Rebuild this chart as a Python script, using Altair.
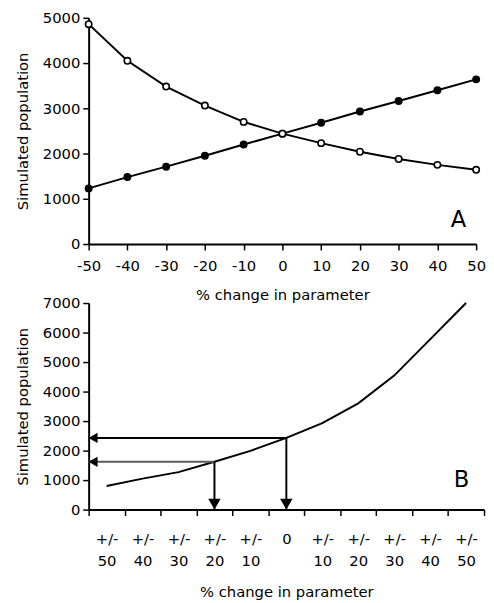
import altair as alt
import pandas as pd

# ---------------- data ----------------
pct_change = [-50, -40, -30, -20, -10, 0, 10, 20, 30, 40, 50]
pop_increasing = [1230, 1480, 1710, 1950, 2200, 2440, 2680, 2930, 3160, 3400, 3640]
pop_decreasing = [4860, 4050, 3480, 3060, 2700, 2440, 2230, 2040, 1880, 1750, 1640]
a_y_ticks = [0, 1000, 2000, 3000, 4000, 5000]

b_keys = [-50, -40, -30, -20, -10, 0, 10, 20, 30, 40, 50]
b_tick_labels = ["+/-|50", "+/-|40", "+/-|30", "+/-|20", "+/-|10", "0",
                 "+/-|10", "+/-|20", "+/-|30", "+/-|40", "+/-|50"]
b_pop = [800, 1050, 1270, 1620, 1990, 2430, 2930, 3600, 4540, 5770, 7000]
b_y_ticks = [0, 1000, 2000, 3000, 4000, 5000, 6000, 7000]

arrow_keys = [0, -20]
arrow_pop = [2430, 1620]
arrow_colors = ["black", "#5a5a5a"]

FONT = "DejaVu Sans"
PLAIN = "'' + datum.value"

# ---------------- panel A ----------------
dfA = pd.DataFrame({
    "pct": pct_change * 2,
    "pop": pop_increasing + pop_decreasing,
    "series": ["inc"] * len(pct_change) + ["dec"] * len(pct_change),
})

axisAx = alt.Axis(values=pct_change, title="% change in parameter", labelExpr=PLAIN,
                  labelOverlap=False, labelFlush=False, labelPadding=9, titlePadding=14)
axisAy = alt.Axis(values=a_y_ticks, title="Simulated population", labelExpr=PLAIN,
                  labelOverlap=False, labelFlush=False, labelPadding=3, titlePadding=12)
xA = alt.X("pct:Q", scale=alt.Scale(domain=[-50, 50], nice=False), axis=axisAx)
yA = alt.Y("pop:Q", scale=alt.Scale(domain=[0, 5000], nice=False), axis=axisAy)

A_H = 230

lineA = alt.Chart(dfA).mark_line(color="black", strokeWidth=2).encode(
    x=xA, y=yA, detail="series:N")
ptsA = alt.Chart(dfA).mark_circle(size=42, stroke="black", strokeWidth=1.6, opacity=1).encode(
    x=xA, y=yA,
    fill=alt.Fill("series:N", scale=alt.Scale(domain=["inc", "dec"], range=["black", "white"]),
                  legend=None))
letterA = alt.Chart(pd.DataFrame({"t": ["A"]})).mark_text(
    font=FONT, fontSize=23, color="black", align="center", baseline="middle").encode(
    text="t:N", x=alt.value(376), y=alt.value(A_H - 24))

chartA = alt.layer(lineA, ptsA, letterA).properties(width=394, height=A_H)

# ---------------- panel B ----------------
dfB = pd.DataFrame({"key": b_keys, "pop": b_pop})

chain = " : ".join(f"datum.value == {k} ? '{lab}'" for k, lab in zip(b_keys, b_tick_labels)) + " : ''"
label_expr = f"split({chain}, '|')"

xB_scale = alt.Scale(type="band", domain=b_keys, paddingInner=0, paddingOuter=0)
yB_scale = alt.Scale(domain=[0, 7000], nice=False)
axisBx = alt.Axis(labelExpr=label_expr, labelAngle=0, tickBand="extent",
                  labelBaseline="top", labelLineHeight=23, labelPadding=16,
                  labelOverlap=False, titlePadding=16, title="% change in parameter")
axisBy = alt.Axis(values=b_y_ticks, title="Simulated population", labelExpr=PLAIN,
                  labelOverlap=False, labelFlush=False, labelPadding=3, titlePadding=12)
xB = alt.X("key:O", scale=xB_scale, bandPosition=0.5, axis=axisBx)
yB = alt.Y("pop:Q", scale=yB_scale, axis=axisBy)
yB_zero = alt.YDatum(0, type="quantitative", scale=yB_scale, axis=axisBy)

lineB = alt.Chart(dfB).mark_line(color="black", strokeWidth=2).encode(x=xB, y=yB)

arrow_layers = []
for k, p, col in zip(arrow_keys, arrow_pop, arrow_colors):
    d = pd.DataFrame({"key": [k], "pop": [p]})
    arrow_layers.append(alt.Chart(d).mark_rule(strokeWidth=2, color=col).encode(
        x=xB, x2=alt.value(0), y=yB))
    arrow_layers.append(alt.Chart(d).mark_point(
        shape="triangle-left", filled=True, size=110, opacity=1, color="black",
        strokeWidth=0, xOffset=4.5).encode(x=alt.value(0), y=yB))
    arrow_layers.append(alt.Chart(d).mark_rule(strokeWidth=2, color="black").encode(
        x=xB, y=yB, y2=alt.datum(0)))
    arrow_layers.append(alt.Chart(d).mark_point(
        shape="triangle-down", filled=True, size=160, opacity=1, color="black",
        strokeWidth=0, yOffset=-5.5).encode(x=xB, y=yB_zero))

letterB = alt.Chart(pd.DataFrame({"t": ["B"]})).mark_text(
    font=FONT, fontSize=23, color="black", align="center", baseline="middle").encode(
    text="t:N", x=alt.value(379), y=alt.value(180))

chartB = alt.layer(lineB, *arrow_layers, letterB).properties(width=402, height=210)

chart = alt.vconcat(chartA, chartB, spacing=60, bounds="flush",
                    padding={"left": 7, "top": -2, "right": 0, "bottom": 0}).configure_view(
    stroke=None
).configure_axis(
    domainColor="black", domainWidth=2, tickColor="black", tickWidth=1.5, tickSize=6,
    grid=False, labelFont=FONT, labelFontSize=15, labelColor="black",
    titleFont=FONT, titleFontSize=15, titleFontWeight="normal", titleColor="black"
)

chart.save("out.html", embed_options={"renderer": "svg", "actions": False})
